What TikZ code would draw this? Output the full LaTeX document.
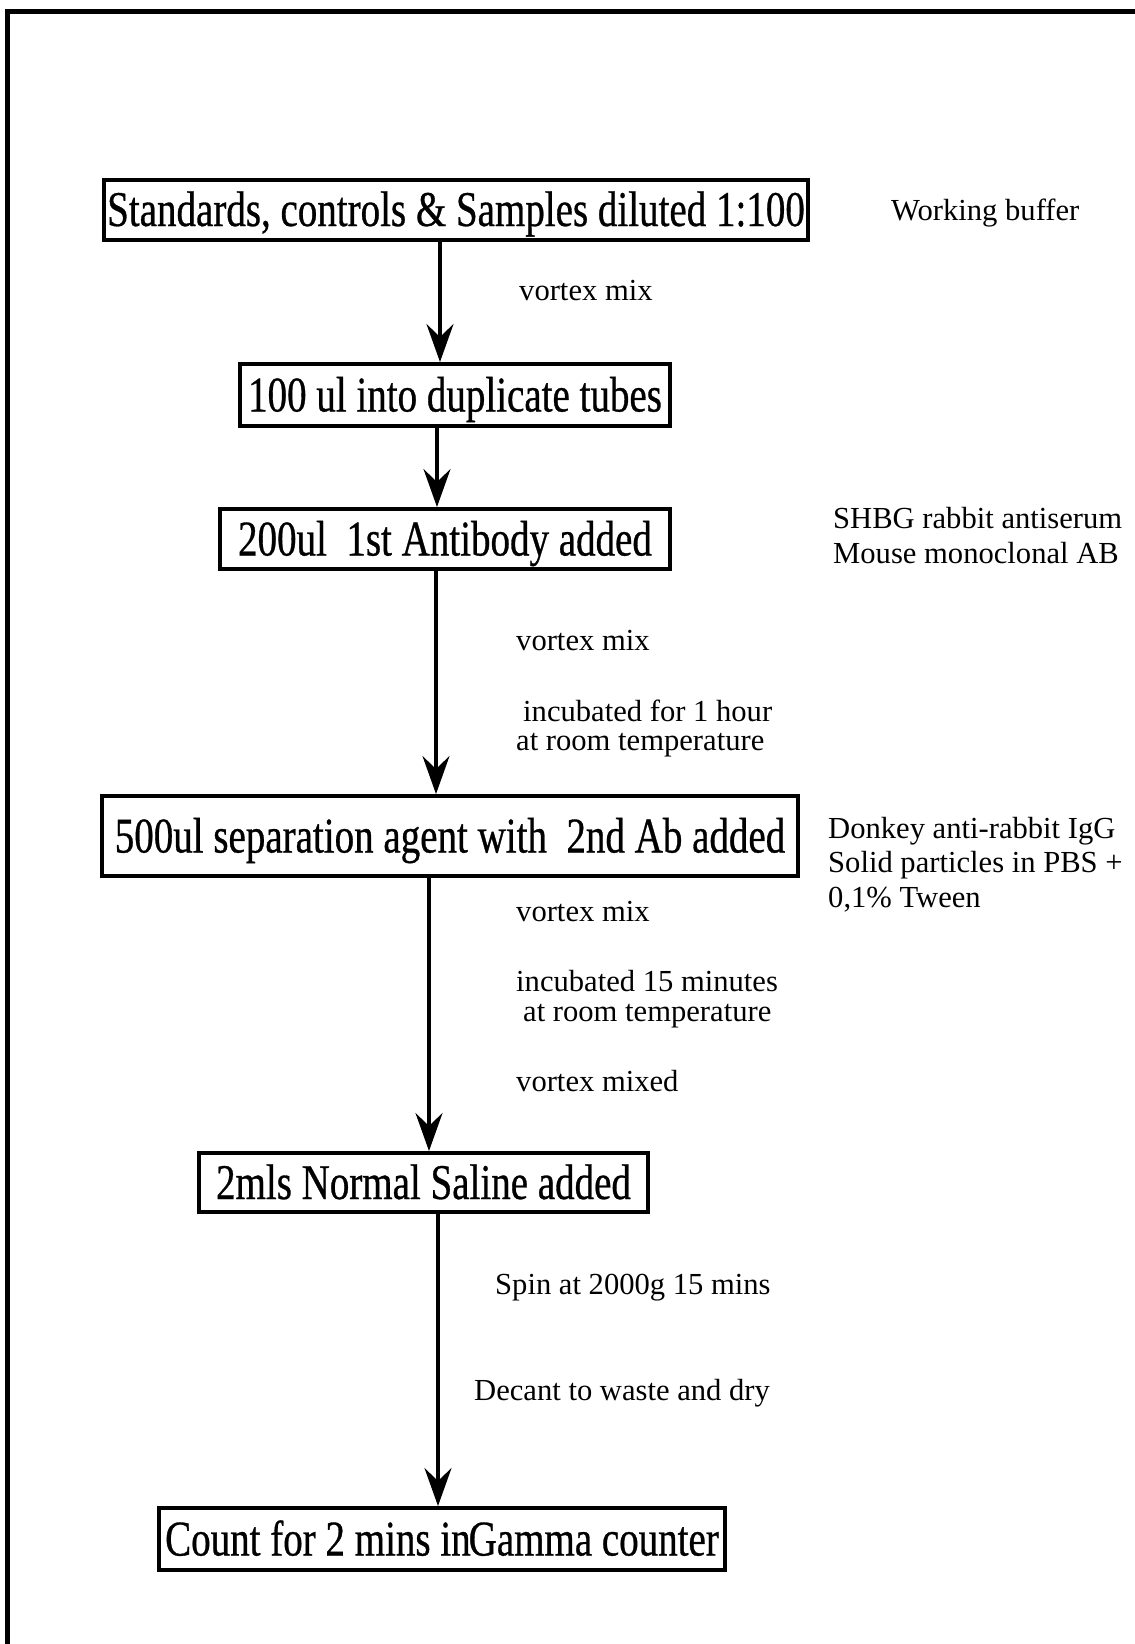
\documentclass[tikz,border=0pt]{standalone}
\usepackage{fontspec}
\setmainfont{Liberation Serif}
\newfontfamily\boxfont{Liberation Serif}[FakeStretch=0.78, FakeBold=0.6]
\usetikzlibrary{arrows.meta}
\begin{document}
\begin{tikzpicture}[x=1pt, y=-1pt,
  box/.style={draw=black, line width=4pt, inner sep=0pt, text height=33pt, text depth=0pt, font=\boxfont\fontsize{50}{50}\selectfont},
  note/.style={anchor=west, inner sep=0pt, align=left, font=\fontsize{30.6}{34.6}\selectfont},
  flow/.style={line width=3.5pt, -{Stealth[length=38pt, width=27pt, inset=13pt]}}]
\useasboundingbox (0,0) rectangle (1135,1644);
% frame
\draw[line width=5pt] (7,1644) -- (7,11) -- (1135,11);
% steps
\node [box, minimum width=704, minimum height=60] (dil) at (456,209.5) {Standards, controls \& Samples diluted 1:100};
\node [box, minimum width=430, minimum height=62] (tubes) at (455,395) {100 ul into duplicate tubes};
\node [box, minimum width=450, minimum height=60] (firstab) at (445,539) {200ul\ \ 1st Antibody added};
\node [box, minimum width=696, minimum height=80] (sep) at (450,836) {500ul separation agent with\ \ 2nd Ab added};
\node [box, minimum width=449, minimum height=59] (saline) at (423.5,1182.5) {2mls Normal Saline added};
\node [box, minimum width=566, minimum height=62] (count) at (442,1539) {Count for 2 mins in\kern-2pt Gamma counter};
% reagents
\node [note] (buffer) at (891,213) {Working buffer};
\node [note] (antiserum) at (833,535.5) {SHBG rabbit antiserum\\Mouse monoclonal AB};
\node [note] (donkey) at (828,864.5) {Donkey anti-rabbit IgG\\Solid particles in PBS +\\0,1\% Tween};
% conditions
\node [note] (mix1) at (519,291) {vortex mix};
\node [note] (mix2) at (516,641) {vortex mix};
\node [note] (inc1a) at (523,711) {incubated for 1 hour};
\node [note] (inc1b) at (516,745) {at room temperature};
\node [note] (mix3) at (516,912) {vortex mix};
\node [note] (inc2a) at (516,981) {incubated 15 minutes};
\node [note] (inc2b) at (523,1016) {at room temperature};
\node [note] (mix4) at (516,1081) {vortex mixed};
\node [note] (spin) at (495,1288) {Spin at 2000g 15 mins};
\node [note] (decant) at (474,1393) {Decant to waste and dry};
% arrows
\draw [flow] (dil.south -| 440,0) -- (tubes.north -| 440,0);
\draw [flow] (tubes.south -| 437,0) -- (firstab.north -| 437,0);
\draw [flow] (firstab.south -| 436,0) -- (sep.north -| 436,0);
\draw [flow] (sep.south -| 429,0) -- (saline.north -| 429,0);
\draw [flow] (saline.south -| 438,0) -- (count.north -| 438,0);
\end{tikzpicture}
\end{document}
